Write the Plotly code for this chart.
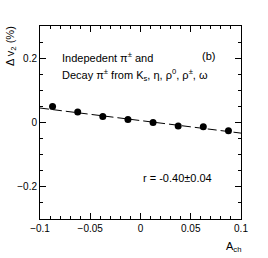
import plotly.graph_objects as go

a_ch = [-0.0875, -0.0625, -0.0375, -0.0125, 0.0125, 0.0375, 0.0625, 0.0875]
dv2 = [0.050, 0.033, 0.019, 0.009, 0.000, -0.011, -0.013, -0.026]
fit_x = [-0.1, 0.1]
fit_y = [0.045, -0.033]

font = "Liberation Sans, Arial, sans-serif"
fig = go.Figure()
fig.add_trace(go.Scatter(x=fit_x, y=fit_y, mode="lines",
                         line=dict(color="black", width=1, dash="9px,4px"),
                         showlegend=False, hoverinfo="skip"))
fig.add_trace(go.Scatter(x=a_ch, y=dv2, mode="markers",
                         marker=dict(color="black", size=7, symbol="circle"),
                         showlegend=False))

axis_common = dict(showgrid=False, zeroline=False, showline=True, linecolor="black",
                   linewidth=1, mirror="allticks", ticks="inside", tickcolor="black",
                   tickfont=dict(family=font, size=10, color="black"))
fig.update_xaxes(range=[-0.1, 0.1], tickvals=[-0.1, -0.05, 0, 0.05, 0.1],
                 ticktext=["\u22120.1", "\u22120.05", "0", "0.05", "0.1"], ticklen=6,
                 minor=dict(dtick=0.01, ticks="inside", ticklen=3, tickcolor="black"),
                 **axis_common)
fig.update_yaxes(range=[-0.3, 0.3], tickvals=[-0.2, 0, 0.2],
                 ticktext=["\u22120.2", "0", "0.2"], ticklen=6,
                 minor=dict(dtick=0.05, ticks="inside", ticklen=3, tickcolor="black"),
                 **axis_common)

txt = dict(family=font, size=11, color="black")
fig.add_annotation(xref="paper", yref="paper", x=0.1, y=0.84, text="Indepedent \u03c0<sup>\u00b1</sup> and",
                   showarrow=False, xanchor="left", yanchor="middle", font=txt)
fig.add_annotation(xref="paper", yref="paper", x=0.1, y=0.745,
                   text="Decay \u03c0<sup>\u00b1</sup> from K<sub>s</sub>, \u03b7, \u03c1<sup>0</sup>, \u03c1<sup>\u00b1</sup>, \u03c9",
                   showarrow=False, xanchor="left", yanchor="middle", font=txt)
fig.add_annotation(xref="paper", yref="paper", x=0.795, y=0.845, text="(b)",
                   showarrow=False, xanchor="left", yanchor="middle", font=txt)
fig.add_annotation(xref="paper", yref="paper", x=0.5, y=0.215, text="r = -0.40\u00b10.04",
                   showarrow=False, xanchor="left", yanchor="middle", font=txt)
fig.add_annotation(xref="paper", yref="paper", x=-0.145, y=1.01, text="\u0394 v<sub>2</sub> (%)",
                   textangle=-90, showarrow=False, xanchor="center", yanchor="top", font=txt)
fig.add_annotation(xref="paper", yref="paper", x=1.01, y=-0.1, text="A<sub>ch</sub>",
                   showarrow=False, xanchor="right", yanchor="top", font=txt)

fig.update_layout(width=268, height=258, margin=dict(l=40, r=27, t=26, b=39),
                  plot_bgcolor="white", paper_bgcolor="white", showlegend=False)
fig.write_html("out.html", config={"displayModeBar": False},
               post_script="document.body.style.margin='0';")
